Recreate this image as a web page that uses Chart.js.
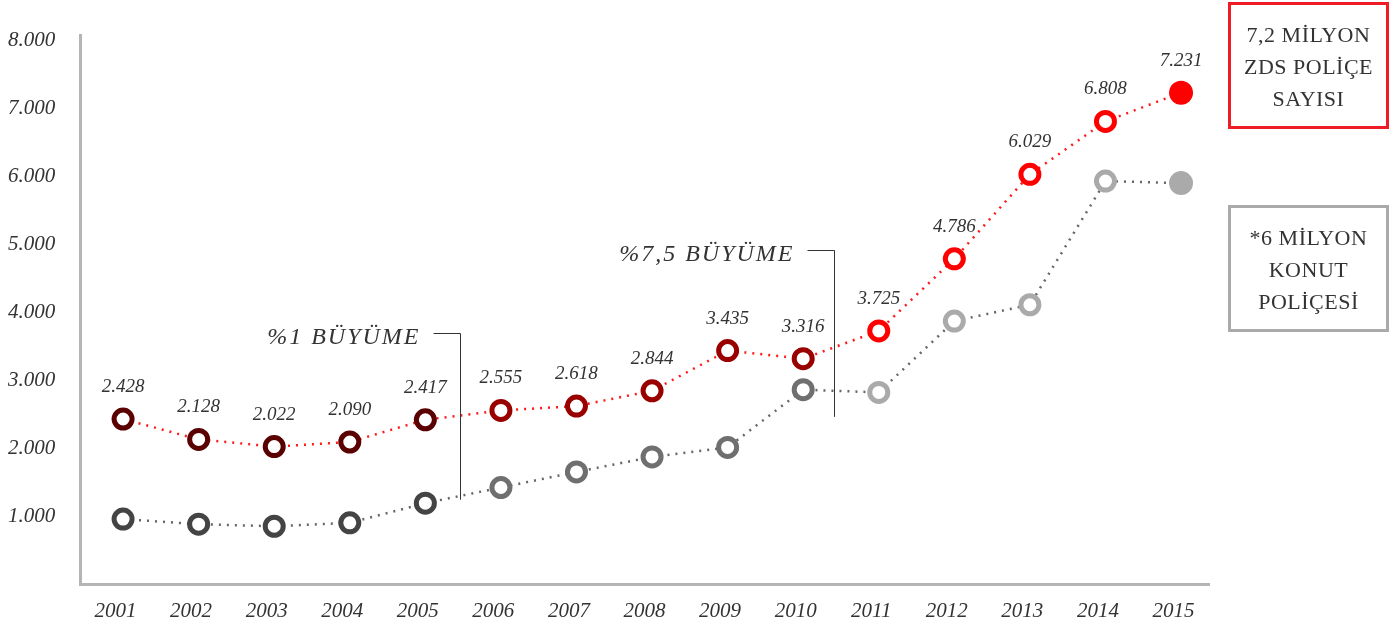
<!DOCTYPE html>
<html>
<head>
<meta charset="utf-8">
<script src="https://cdn.jsdelivr.net/npm/chart.js@4.4.1/dist/chart.umd.min.js"></script>
<style>
  html, body { margin: 0; padding: 0; background: #fff; }
  #wrap { position: relative; width: 1400px; height: 627px; }
  canvas { position: absolute; left: 0; top: 0; }
  .box {
    position: absolute; box-sizing: border-box; width: 161px; height: 127px;
    border: 3px solid #aaa; display: flex; align-items: center; justify-content: center;
    text-align: center; font-family: "Liberation Serif", serif; font-size: 22px;
    line-height: 32px; color: #333; letter-spacing: 0.5px; padding-top: 2px;
  }
  #boxRed { left: 1228px; top: 2px; border-color: #ee1c25; }
  #boxGray { left: 1228px; top: 205px; border-color: #aaa; }
</style>
</head>
<body>
<div id="wrap">
  <canvas id="c" width="1400" height="627"></canvas>
  <div class="box" id="boxRed">7,2 MİLYON<br>ZDS POLİÇE<br>SAYISI</div>
  <div class="box" id="boxGray">*6 MİLYON<br>KONUT<br>POLİÇESİ</div>
</div>
<script>
// ---- data ----
const years = [2001, 2002, 2003, 2004, 2005, 2006, 2007, 2008, 2009, 2010, 2011, 2012, 2013, 2014, 2015];
const zdsPolicies = [2428, 2128, 2022, 2090, 2417, 2555, 2618, 2844, 3435, 3316, 3725, 4786, 6029, 6808, 7231];
const konutPolicies = [955, 880, 850, 900, 1190, 1420, 1650, 1870, 2010, 2860, 2820, 3870, 4110, 5930, 5900];
const yTicks = [1000, 2000, 3000, 4000, 5000, 6000, 7000, 8000];
const growthNotes = [
  { text: "%1 BÜYÜME", x: 2005.46, yTop: 3690, yBottom: 1240 },
  { text: "%7,5 BÜYÜME", x: 2010.41, yTop: 4910, yBottom: 2460 }
];

// ---- styles ----
const redShades = ["#5a0000", "#990000", "#ff0000"];
const grayShades = ["#444444", "#6f6f6f", "#aaaaaa"];
const period = i => (i < 5 ? 0 : i < 10 ? 1 : 2);
const last = years.length - 1;
const yearLabelShift = 0.1; // labels sit slightly left of the points

const fmt = v => v.toLocaleString('de-DE');

const labelPlugin = {
  id: 'labels',
  afterDatasetsDraw(chart) {
    const ctx = chart.ctx;
    const meta = chart.getDatasetMeta(0);
    ctx.save();
    ctx.fillStyle = '#333';
    ctx.font = 'italic 19px "Liberation Serif", serif';
    ctx.textAlign = 'center';
    ctx.textBaseline = 'middle';
    meta.data.forEach((pt, i) => {
      ctx.fillText(fmt(zdsPolicies[i]), pt.x, pt.y - 32);
    });
    // growth notes
    const xs = chart.scales.x, ys = chart.scales.y;
    ctx.strokeStyle = '#333';
    ctx.lineWidth = 1;
    ctx.font = 'italic 24px "Liberation Serif", serif';
    ctx.textAlign = 'right';
    growthNotes.forEach(n => {
      const x = Math.round(xs.getPixelForValue(n.x)) + 0.5;
      const yt = Math.round(ys.getPixelForValue(n.yTop)) + 0.5;
      const yb = ys.getPixelForValue(n.yBottom);
      ctx.beginPath();
      ctx.moveTo(x - 27, yt);
      ctx.lineTo(x, yt);
      ctx.lineTo(x, yb);
      ctx.stroke();
      ctx.fillText(n.text.split('').join(String.fromCharCode(8202)), x - 42, yt + 4);
    });
    ctx.restore();
  }
};

new Chart(document.getElementById('c'), {
  type: 'line',
  data: {
    datasets: [
      {
        data: years.map((y, i) => ({ x: y, y: zdsPolicies[i] })),
        borderColor: '#ff1a1a',
        borderWidth: 2.5,
        borderDash: [2, 6],
        pointRadius: years.map((y, i) => (i === last ? 12 : 9)),
        pointBorderWidth: years.map((y, i) => (i === last ? 0 : 5)),
        pointBorderColor: years.map((y, i) => redShades[period(i)]),
        pointBackgroundColor: years.map((y, i) => (i === last ? redShades[2] : '#fff')),
        tension: 0
      },
      {
        data: years.map((y, i) => ({ x: y, y: konutPolicies[i] })),
        borderColor: '#666',
        borderWidth: 2.5,
        borderDash: [2, 6],
        pointRadius: years.map((y, i) => (i === last ? 12 : 9)),
        pointBorderWidth: years.map((y, i) => (i === last ? 0 : 5)),
        pointBorderColor: years.map((y, i) => grayShades[period(i)]),
        pointBackgroundColor: years.map((y, i) => (i === last ? grayShades[2] : '#fff')),
        tension: 0
      }
    ]
  },
  options: {
    responsive: false,
    animation: false,
    layout: { padding: { top: 35, right: 191, bottom: 0, left: 8 } },
    plugins: { legend: { display: false }, tooltip: { enabled: false } },
    scales: {
      x: {
        type: 'linear',
        min: 2000.43,
        max: 2015.37,
        grid: { display: false, drawTicks: false },
        border: { color: '#b5b5b5', width: 3 },
        afterBuildTicks: s => { s.ticks = years.map(v => ({ value: v - yearLabelShift })); },
        afterFit: s => { s.height = 43; },
        ticks: {
          padding: 15,
          color: '#333',
          font: { family: '"Liberation Serif", serif', style: 'italic', size: 21 },
          callback: v => String(Math.round(v))
        }
      },
      y: {
        min: 0,
        max: 8080,
        grid: { display: false, drawTicks: false },
        border: { color: '#b5b5b5', width: 3 },
        afterBuildTicks: s => { s.ticks = yTicks.map(v => ({ value: v })); },
        afterFit: s => { s.width = 72; },
        ticks: {
          crossAlign: 'far',
          padding: 10,
          color: '#333',
          font: { family: '"Liberation Serif", serif', style: 'italic', size: 21 },
          callback: v => fmt(v)
        }
      }
    }
  },
  plugins: [labelPlugin]
});
</script>
</body>
</html>
